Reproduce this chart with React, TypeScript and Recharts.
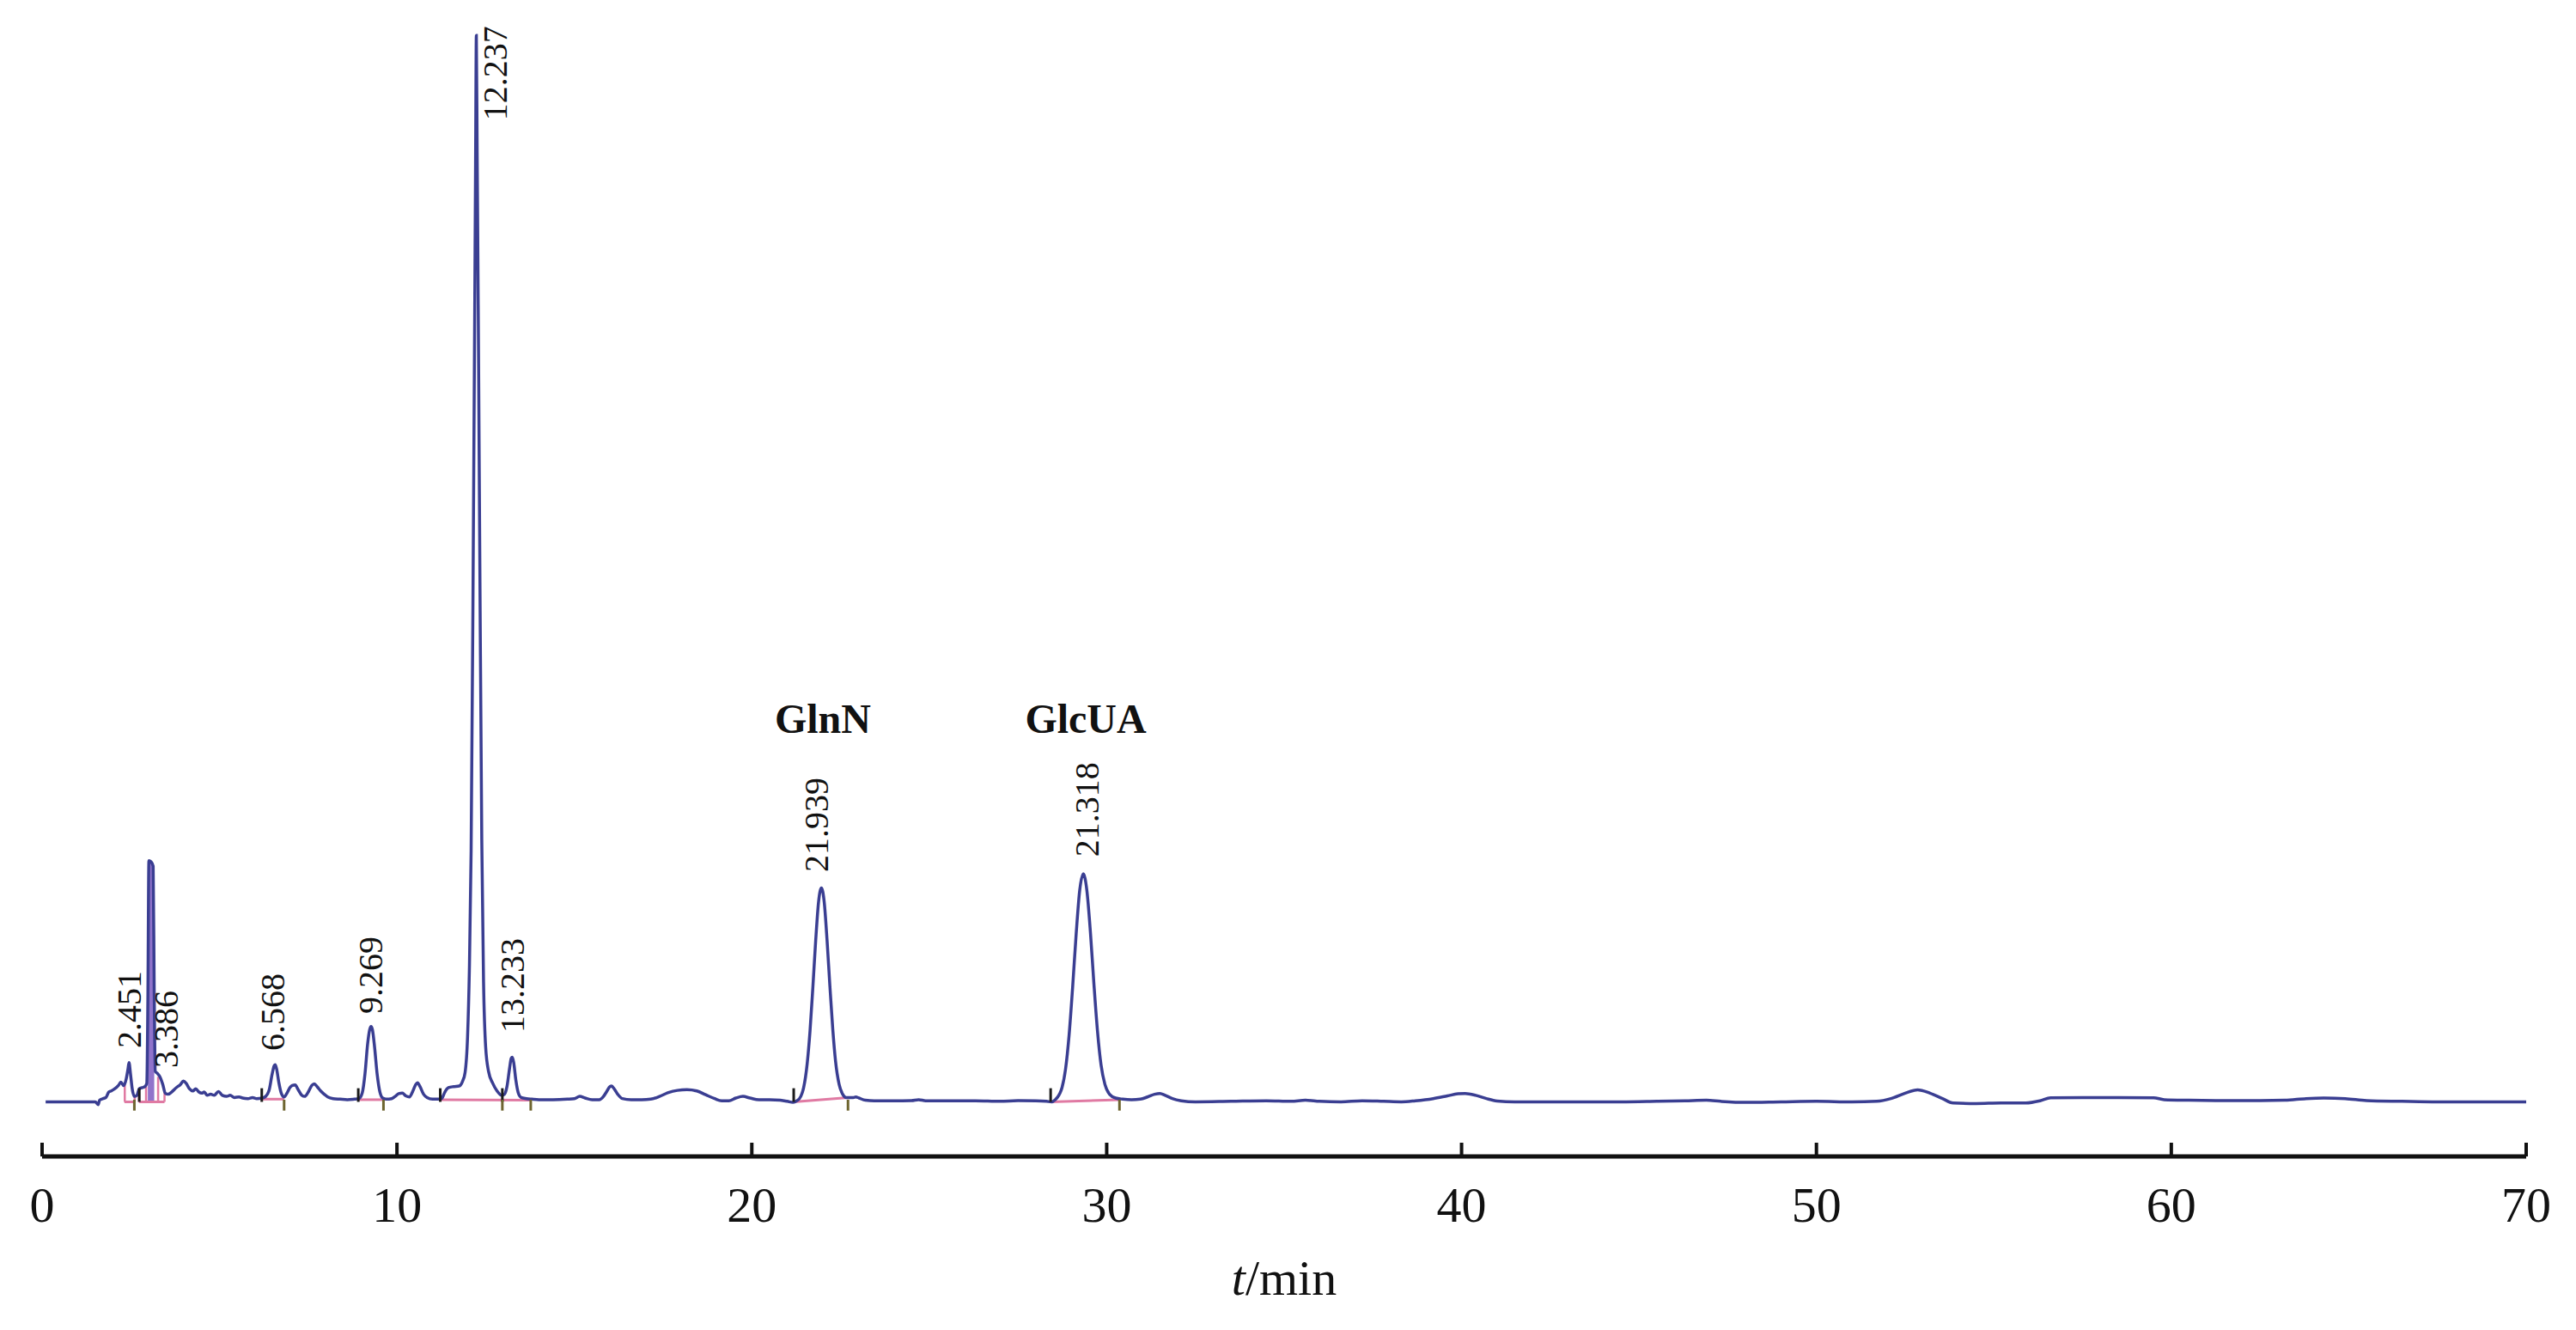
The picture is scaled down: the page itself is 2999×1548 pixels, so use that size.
import React from 'react';
import {
  ComposedChart,
  Line,
  Area,
  XAxis,
  YAxis,
  ReferenceLine,
  ReferenceDot,
} from 'recharts';

// ---- data (t in min, signal in arbitrary units) ----
const traceTime: number[] = [
  0.1, 0.5, 1.0, 1.5, 1.58, 1.62, 1.72, 1.8, 1.88, 1.95, 2.05, 2.15, 2.22, 2.3, 2.37, 2.42, 2.45, 2.49, 2.54, 2.6,
  2.67, 2.74, 2.82, 2.9, 2.95, 2.98, 3.01, 3.07, 3.13, 3.16, 3.19, 3.25, 3.32, 3.4, 3.47, 3.55, 3.65, 3.78, 3.9, 3.98,
  4.06, 4.15, 4.25, 4.33, 4.42, 4.5, 4.57, 4.65, 4.75, 4.85, 4.97, 5.08, 5.2, 5.3, 5.42, 5.55, 5.65, 5.8, 5.93, 6.05,
  6.2, 6.3, 6.4, 6.48, 6.54, 6.57, 6.61, 6.67, 6.74, 6.82, 6.9, 6.98, 7.05, 7.13, 7.22, 7.32, 7.4, 7.5, 7.6, 7.67,
  7.75, 7.85, 7.95, 8.05, 8.2, 8.4, 8.6, 8.8, 8.93, 9.02, 9.1, 9.17, 9.23, 9.27, 9.31, 9.37, 9.44, 9.52, 9.6, 9.7,
  9.85, 9.95, 10.05, 10.15, 10.25, 10.35, 10.45, 10.53, 10.58, 10.65, 10.75, 10.85, 11.0, 11.15, 11.26, 11.35, 11.45, 11.6, 11.75, 11.85,
  11.92, 11.99, 12.04, 12.09, 12.14, 12.19, 12.215, 12.237, 12.26, 12.29, 12.34, 12.39, 12.44, 12.5, 12.58, 12.7, 12.82, 12.95, 13.03, 13.1,
  13.17, 13.22, 13.25, 13.29, 13.35, 13.42, 13.5, 13.65, 13.8, 14.0, 14.4, 14.8, 15.0, 15.15, 15.3, 15.5, 15.7, 15.82, 15.92, 16.0,
  16.05, 16.12, 16.22, 16.35, 16.6, 16.9, 17.15, 17.4, 17.65, 17.9, 18.17, 18.45, 18.7, 18.95, 19.15, 19.35, 19.55, 19.75, 19.95, 20.2,
  20.5, 20.8, 21.0, 21.16, 21.27, 21.38, 21.46, 21.56, 21.64, 21.72, 21.8, 21.88, 21.96, 22.04, 22.12, 22.2, 22.28, 22.36, 22.46, 22.56,
  22.66, 22.76, 22.86, 22.93, 23.02, 23.2, 23.45, 24.0, 24.5, 24.7, 24.9, 25.5, 26.3, 27.0, 27.5, 28.0, 28.3, 28.45, 28.55, 28.65,
  28.74, 28.84, 28.94, 29.04, 29.14, 29.24, 29.34, 29.44, 29.54, 29.64, 29.74, 29.84, 29.95, 30.08, 30.25, 30.45, 30.7, 30.95, 31.15, 31.35,
  31.5, 31.65, 31.85, 32.1, 32.5, 33.5, 34.5, 35.2, 35.6, 36.0, 36.6, 37.2, 37.8, 38.3, 38.7, 39.2, 39.6, 39.9, 40.1, 40.4,
  40.7, 41.0, 41.5, 42.5, 43.5, 44.5, 45.5, 46.3, 46.9, 47.3, 48.0, 49.0, 50.0, 51.0, 51.7, 52.1, 52.5, 52.85, 53.2, 53.55,
  53.85, 54.5, 55.2, 55.9, 56.3, 56.6, 57.5, 58.5, 59.5, 59.8, 60.5, 61.5, 62.5, 63.2, 63.8, 64.3, 64.9, 65.5, 66.5, 67.5,
  68.5, 69.3, 70.0,
];
const traceSignal: number[] = [
  0, 0, 0, 0, -0.25, 0.15, 0.3, 0.4, 0.9, 1.0, 1.2, 1.5, 1.8, 1.5, 2.1, 3.0, 3.6, 2.6, 1.2, 0.5,
  0.6, 1.2, 1.3, 1.4, 1.7, 9.0, 22.1, 22.0, 21.6, 10.0, 2.8, 2.6, 2.3, 1.6, 0.8, 0.7, 0.9, 1.3, 1.6, 1.9,
  1.7, 1.2, 1.0, 1.2, 0.9, 0.8, 0.9, 0.6, 0.7, 0.6, 0.95, 0.6, 0.5, 0.6, 0.4, 0.45, 0.35, 0.3, 0.4, 0.3,
  0.35, 0.5, 1.1, 2.5, 3.3, 3.4, 3.0, 1.8, 0.8, 0.45, 0.8, 1.3, 1.5, 1.55, 1.1, 0.6, 0.5, 0.9, 1.5, 1.65,
  1.4, 1.0, 0.7, 0.45, 0.3, 0.25, 0.2, 0.25, 0.3, 0.8, 2.6, 5.2, 6.6, 6.9, 6.6, 5.0, 2.6, 0.9, 0.35, 0.25,
  0.3, 0.5, 0.75, 0.8, 0.55, 0.45, 1.0, 1.6, 1.75, 1.4, 0.7, 0.4, 0.25, 0.25, 0.3, 0.9, 1.3, 1.4, 1.45, 1.9,
  2.7, 6.0, 12.0, 23.0, 45.0, 72.0, 86.0, 97.7, 87.0, 73.0, 47.0, 24.0, 11.0, 5.0, 2.8, 1.7, 1.0, 0.6, 0.7, 1.4,
  3.0, 4.0, 4.1, 3.6, 2.0, 0.8, 0.4, 0.3, 0.25, 0.2, 0.2, 0.25, 0.3, 0.5, 0.35, 0.2, 0.2, 0.5, 1.0, 1.4,
  1.45, 1.2, 0.7, 0.3, 0.2, 0.2, 0.25, 0.5, 0.85, 1.05, 1.12, 1.0, 0.65, 0.3, 0.1, 0.1, 0.35, 0.5, 0.35, 0.2,
  0.2, 0.15, 0.05, -0.05, 0.1, 0.5, 1.3, 3.5, 6.5, 10.5, 14.8, 18.3, 19.6, 18.3, 14.8, 10.6, 6.7, 3.7, 1.6, 0.7,
  0.4, 0.4, 0.4, 0.45, 0.35, 0.15, 0.1, 0.1, 0.12, 0.2, 0.1, 0.1, 0.1, 0.05, 0.12, 0.1, 0.05, 0.0, 0.2, 0.6,
  1.3, 3.0, 6.1, 10.5, 15.4, 19.4, 20.9, 19.4, 15.6, 10.8, 6.5, 3.4, 1.6, 0.7, 0.35, 0.25, 0.2, 0.25, 0.45, 0.7,
  0.77, 0.6, 0.3, 0.1, 0.0, 0.05, 0.1, 0.05, 0.15, 0.05, 0.0, 0.1, 0.05, 0.0, 0.1, 0.3, 0.55, 0.74, 0.77, 0.6,
  0.3, 0.08, 0.0, 0.0, 0.0, 0.0, 0.05, 0.1, 0.15, 0.05, -0.05, 0.0, 0.05, 0.0, 0.05, 0.3, 0.8, 1.1, 0.8, 0.3,
  -0.1, -0.15, -0.1, -0.1, 0.1, 0.38, 0.4, 0.4, 0.38, 0.2, 0.15, 0.12, 0.12, 0.15, 0.3, 0.35, 0.3, 0.12, 0.05, 0.0,
  0.0, 0.0, 0.0,
];

// retention times of the narrow, over-plotted peak near 3.1 min (drawn filled)
const spikeTimes: number[] = [2.98, 3.01, 3.07, 3.13, 3.16];

// integration baselines: [tStart, vStart, tEnd, vEnd]
const integrationBaselines: number[][] = [
  [2.32, 0, 2.61, 0],
  [2.73, 0, 3.45, 0],
  [6.19, 0.25, 6.82, 0.25],
  [8.91, 0.2, 9.62, 0.2],
  [11.22, 0.2, 13.77, 0.15],
  [21.18, 0, 22.71, 0.4],
  [28.42, 0, 30.36, 0.2],
];
// drop lines: [t, top]
const dropLines: number[][] = [
  [2.33, 1.6],
  [2.61, 0.5],
  [2.73, 1.2],
  [2.93, 1.4],
  [3.27, 2.3],
  [3.45, 1.0],
];
const peakStartMarks: number[] = [2.74, 6.19, 8.91, 11.22, 12.97, 21.18, 28.42];
const peakEndMarks: number[] = [2.6, 6.82, 9.62, 12.97, 13.77, 22.71, 30.36];

const peakLabelText: string[] = ['2.451', '3.386', '6.568', '9.269', '12.237', '13.233', '21.939', '21.318'];
const peakLabelTime: number[] = [2.445, 3.49, 6.475, 9.25, 12.76, 13.24, 21.81, 29.44];
const peakLabelLevel: number[] = [4.92, 3.11, 4.68, 8.07, 89.9, 6.34, 21.05, 22.46];

const compoundNames: string[] = ['GlnN', 'GlcUA'];
const compoundTime: number[] = [22.0, 29.41];
const compoundLevel: number[] = [33.8, 33.8];

const xTicks: number[] = [0, 10, 20, 30, 40, 50, 60, 70];

const spikeSet = new Set(spikeTimes);
const rows = traceTime.map((t, i) => ({
  t,
  v: traceSignal[i],
  spike: spikeSet.has(t) ? traceSignal[i] : null,
}));

const SERIF = "'Liberation Serif', 'Times New Roman', serif";
const TRACE = '#3a3e92';
const PINK = '#e07aa3';

const AxisTick = (props: any) => {
  const { x, y, payload } = props;
  return (
    <g>
      <line x1={x} y1={y} x2={x} y2={y - 16} stroke="#111" strokeWidth={4} />
      <text x={x} y={y + 76} textAnchor="middle" fontFamily={SERIF} fontSize={58} fill="#111">
        {payload.value}
      </text>
    </g>
  );
};

const AxisTitle = (props: any) => {
  const vb = props.viewBox || {};
  const cx = (vb.x ?? 0) + (vb.width ?? 0) / 2;
  const y = (vb.y ?? 0) + 161;
  return (
    <text x={cx} y={y} textAnchor="middle" fontFamily={SERIF} fontSize={58} fill="#111">
      <tspan fontStyle="italic">t</tspan>
      <tspan>/min</tspan>
    </text>
  );
};

const rotatedLabel = (text: string) => (p: any) => {
  const { cx, cy } = p;
  return (
    <text
      x={cx}
      y={cy}
      dy="0.35em"
      textAnchor="start"
      transform={`rotate(-90 ${cx} ${cy})`}
      fontFamily={SERIF}
      fontSize={40}
      fill="#111"
    >
      {text}
    </text>
  );
};

const boldLabel = (text: string) => (p: any) => {
  const { cx, cy } = p;
  return (
    <text x={cx} y={cy} textAnchor="middle" fontFamily={SERIF} fontWeight="bold" fontSize={48} fill="#111">
      {text}
    </text>
  );
};

export default function App() {
  return (
    <div style={{ position: 'absolute', left: 0, top: 0, width: 2999, height: 1548, background: '#fff' }}>
      <ComposedChart
        width={2999}
        height={1548}
        data={rows}
        margin={{ top: 12, right: 58, bottom: 142, left: 49 }}
      >
        <XAxis
          dataKey="t"
          type="number"
          domain={[0, 70]}
          ticks={xTicks}
          height={60}
          tickSize={0}
          tickMargin={0}
          tickLine={false}
          tick={<AxisTick />}
          axisLine={{ stroke: '#111', strokeWidth: 5 }}
          label={{ content: AxisTitle }}
          interval={0}
        />
        <YAxis type="number" domain={[-5, 100]} hide />

        {integrationBaselines.map((s, i) => (
          <ReferenceLine
            key={`bl${i}`}
            segment={[{ x: s[0], y: s[1] }, { x: s[2], y: s[3] }]}
            stroke={PINK}
            strokeWidth={3}
          />
        ))}
        {dropLines.map((d, i) => (
          <ReferenceLine
            key={`dl${i}`}
            segment={[{ x: d[0], y: 0 }, { x: d[0], y: d[1] }]}
            stroke={PINK}
            strokeWidth={2.5}
          />
        ))}

        <Area
          dataKey="spike"
          type="monotone"
          baseValue={0}
          stroke="none"
          fill="#8a6cc8"
          fillOpacity={0.95}
          connectNulls={false}
          isAnimationActive={false}
          dot={false}
          activeDot={false}
        />
        <Line
          dataKey="v"
          type="monotone"
          stroke={TRACE}
          strokeWidth={3.5}
          dot={false}
          activeDot={false}
          isAnimationActive={false}
        />

        {peakStartMarks.map((t, i) => (
          <ReferenceLine
            key={`ps${i}`}
            segment={[{ x: t, y: 0 }, { x: t, y: 1.25 }]}
            stroke="#1a1a1a"
            strokeWidth={3}
          />
        ))}
        {peakEndMarks.map((t, i) => (
          <ReferenceLine
            key={`pe${i}`}
            segment={[{ x: t, y: 0.2 }, { x: t, y: -0.8 }]}
            stroke="#6e6530"
            strokeWidth={3}
          />
        ))}

        {peakLabelText.map((txt, i) => (
          <ReferenceDot
            key={`pl${i}`}
            x={peakLabelTime[i]}
            y={peakLabelLevel[i]}
            r={0}
            shape={rotatedLabel(txt)}
          />
        ))}
        {compoundNames.map((txt, i) => (
          <ReferenceDot
            key={`cn${i}`}
            x={compoundTime[i]}
            y={compoundLevel[i]}
            r={0}
            shape={boldLabel(txt)}
          />
        ))}
      </ComposedChart>
    </div>
  );
}
